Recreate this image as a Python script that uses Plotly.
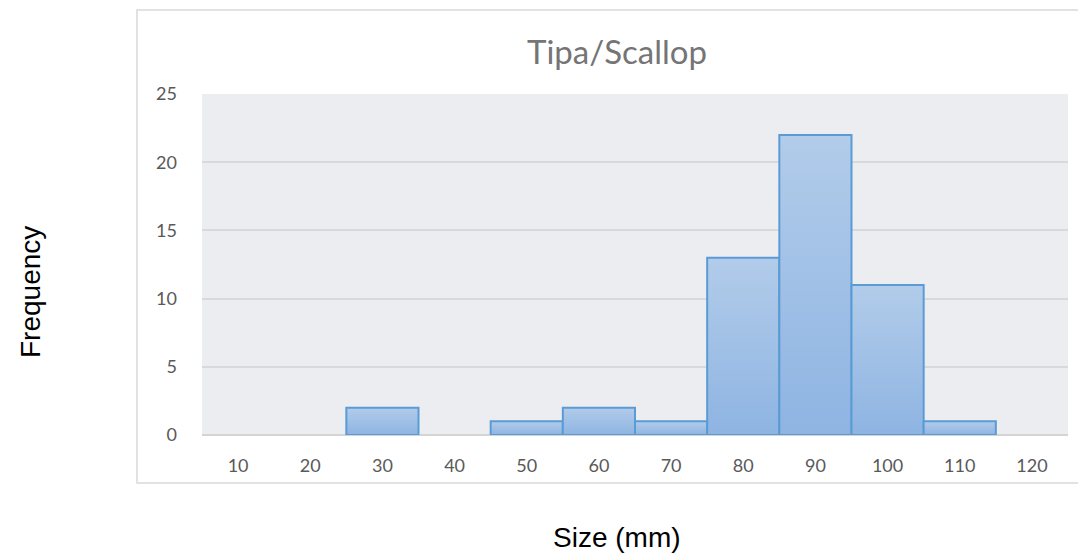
import plotly.graph_objects as go

categories = [10, 20, 30, 40, 50, 60, 70, 80, 90, 100, 110, 120]
frequency = [0, 0, 2, 0, 1, 2, 1, 13, 22, 11, 1, 0]
bin_width = 10
y_ticks = [0, 5, 10, 15, 20, 25]

# page body adds an 8px offset; plot area on screen is x 202-1068, y 94-435
W, H = 1078, 546
L, R, T, B = 194, 18, 86, 119
pw, ph = W - L - R, H - T - B
OFF = 8

fig = go.Figure()
half = bin_width / 2
for c, v in zip(categories, frequency):
    if not v:
        continue
    fig.add_trace(go.Scatter(
        x=[c - half, c - half, c + half, c + half, c - half],
        y=[0, v, v, 0, 0],
        mode="lines", fill="toself",
        fillgradient=dict(type="vertical", start=0, stop=v,
                          colorscale=[[0, "#8EB4E2"], [1, "#B2CCEA"]]),
        line=dict(color="#5B9BD5", width=2),
        hoveron="fills", name=str(c), text=f"{c}: {v}", hoverinfo="text",
    ))

def sx(px):
    return (px - OFF - L) / pw

def sy(py):
    return (H - B - (py - OFF)) / ph

fig.update_layout(
    width=W, height=H,
    margin=dict(l=L, r=R, t=T, b=B),
    paper_bgcolor="white",
    plot_bgcolor="#ECEDF1",
    showlegend=False,
    font=dict(family="Lato, Open Sans, sans-serif", color="#595959", size=18),
    title=dict(text="Tipa/Scallop", x=(617 - OFF) / W, xanchor="center",
               y=1 - (52 - OFF) / H, yanchor="middle",
               font=dict(size=33, color="#757575", family="Lato, Open Sans, sans-serif")),
    xaxis=dict(range=[categories[0] - half, categories[-1] + half], tickvals=categories,
               showgrid=False, showline=False, zeroline=False, ticks="", ticklabelstandoff=18,
               tickfont=dict(size=18, color="#595959")),
    yaxis=dict(range=[0, 25], tickvals=y_ticks, showgrid=True, gridcolor="#D9D9D9", gridwidth=1.5,
               zeroline=True, zerolinecolor="#D4D4D4", zerolinewidth=2, ticks="",
               ticklabelstandoff=24, tickfont=dict(size=18, color="#595959")),
    shapes=[dict(type="rect", xref="paper", yref="paper",
                 x0=sx(137), x1=sx(1085),
                 y0=sy(483), y1=sy(10),
                 line=dict(color="#D9D9D9", width=1.5), fillcolor="rgba(0,0,0,0)", layer="below")],
    annotations=[
        dict(text="Frequency", xref="paper", yref="paper", x=sx(30), y=sy(292),
             textangle=-90, showarrow=False, xanchor="center", yanchor="middle",
             font=dict(family="Liberation Sans, Arial, sans-serif", size=28, color="#000000")),
        dict(text="Size (mm)", xref="paper", yref="paper", x=sx(617), y=sy(537),
             showarrow=False, xanchor="center", yanchor="middle",
             font=dict(family="Liberation Sans, Arial, sans-serif", size=28, color="#000000")),
    ],
)

fig.write_html("out.html")
